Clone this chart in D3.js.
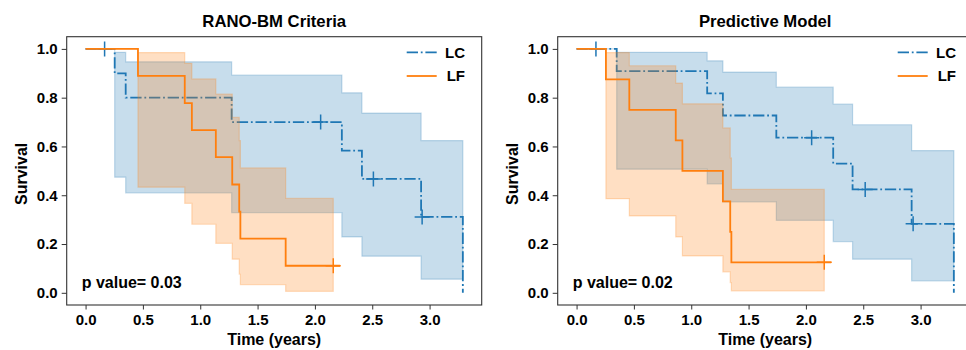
<!DOCTYPE html>
<html>
<head>
<meta charset="utf-8">
<script src="https://cdn.jsdelivr.net/npm/d3@7"></script>
<style>
  body { margin: 0; background: #fff; }
  svg { display: block; font-family: "Liberation Sans", Arial, sans-serif; font-weight: bold; }
</style>
</head>
<body>
<svg id="chart" width="966" height="350"></svg>
<script>
// tick values
const xTicks = [0, 0.5, 1.0, 1.5, 2.0, 2.5, 3.0];
const yTicks = [0, 0.2, 0.4, 0.6, 0.8, 1.0];
const maxTime = 3.29;

// RANO-BM, LC group
const ranoLcTime = [0, 0.254, 0.35, 1.274, 2.235, 2.41, 2.926, 3.29];
const ranoLcSurv = [1, 0.9, 0.8, 0.7, 0.583, 0.467, 0.311, 0];
const ranoLcUpper = [1, 0.986, 0.947, 0.893, 0.82, 0.737, 0.624];
const ranoLcLower = [1, 0.474, 0.41, 0.329, 0.229, 0.15, 0.056];
const ranoLcCensor = [0.166, 2.05, 2.51, 2.935];

// RANO-BM, LF group
const ranoLfTime = [0, 0.457, 0.865, 0.927, 1.136, 1.279, 1.34, 1.35, 1.745];
const ranoLfSurv = [1, 0.889, 0.778, 0.667, 0.556, 0.444, 0.333, 0.222, 0.111];
const ranoLfUpper = [1, 0.985, 0.941, 0.877, 0.815, 0.719, 0.624, 0.512, 0.387];
const ranoLfLower = [1, 0.433, 0.367, 0.281, 0.203, 0.138, 0.076, 0.033, 0.006];
const ranoLfCensor = [2.16];

// Predictive model, LC group
const predLcTime = [0, 0.35, 1.139, 1.276, 1.742, 2.238, 2.407, 2.922, 3.29];
const predLcSurv = [1, 0.909, 0.818, 0.727, 0.636, 0.53, 0.424, 0.283, 0];
const predLcUpper = [1, 0.986, 0.951, 0.905, 0.843, 0.774, 0.689, 0.583];
const predLcLower = [1, 0.507, 0.447, 0.373, 0.297, 0.21, 0.138, 0.049];
const predLcCensor = [0.169, 2.05, 2.517, 2.935];

// Predictive model, LF group
const predLfTime = [0, 0.256, 0.46, 0.865, 0.923, 1.276, 1.34, 1.35];
const predLfSurv = [1, 0.875, 0.75, 0.625, 0.5, 0.375, 0.25, 0.125];
const predLfUpper = [1, 0.985, 0.931, 0.86, 0.775, 0.676, 0.553, 0.424];
const predLfLower = [1, 0.386, 0.315, 0.229, 0.151, 0.086, 0.042, 0.008];
const predLfCensor = [2.16];

const blue = "#1f77b4", orange = "#ff7f0e";

const panels = [
  {
    title: "RANO-BM Criteria", pvalue: "p value= 0.03", left: 66.7,
    series: [
      { name: "LC", color: blue, dash: "11.3,2.8,1.8,2.8", time: ranoLcTime, surv: ranoLcSurv,
        upper: ranoLcUpper, lower: ranoLcLower, censor: ranoLcCensor, lineEnd: 3.29, bandEnd: 3.29 },
      { name: "LF", color: orange, dash: null, time: ranoLfTime, surv: ranoLfSurv,
        upper: ranoLfUpper, lower: ranoLfLower, censor: ranoLfCensor, lineEnd: 2.22, bandEnd: 2.16 }
    ]
  },
  {
    title: "Predictive Model", pvalue: "p value= 0.02", left: 557.7,
    series: [
      { name: "LC", color: blue, dash: "11.3,2.8,1.8,2.8", time: predLcTime, surv: predLcSurv,
        upper: predLcUpper, lower: predLcLower, censor: predLcCensor, lineEnd: 3.29, bandEnd: 3.29 },
      { name: "LF", color: orange, dash: null, time: predLfTime, surv: predLfSurv,
        upper: predLfUpper, lower: predLfLower, censor: predLfCensor, lineEnd: 2.22, bandEnd: 2.16 }
    ]
  }
];

const plotTop = 36.7, width = 415, height = 268.3;
const svg = d3.select("#chart");

panels.forEach(p => drawPanel(p));

function drawPanel(p) {
  const g = svg.append("g").attr("transform", "translate(" + p.left + "," + plotTop + ")");

  const x = d3.scaleLinear().domain([-0.05 * maxTime, 1.05 * maxTime]).range([0, width]);
  const y = d3.scaleLinear().domain([-0.05, 1.05]).range([height, 0]);

  p.series.forEach(s => {
    // confidence band
    const band = s.upper.map((u, i) => [s.time[i], s.lower[i], u]);
    const last = band[band.length - 1];
    band.push([s.bandEnd, last[1], last[2]]);
    g.append("path")
      .datum(band)
      .attr("d", d3.area().curve(d3.curveStepAfter)
        .x(d => x(d[0])).y0(d => y(d[1])).y1(d => y(d[2])))
      .attr("fill", s.color).attr("fill-opacity", 0.25)
      .attr("stroke", s.color).attr("stroke-opacity", 0.25).attr("stroke-width", 1.2);

    // survival step line
    const pts = s.time.map((t, i) => [t, s.surv[i]]);
    const lastS = pts[pts.length - 1];
    if (s.lineEnd > lastS[0]) pts.push([s.lineEnd, lastS[1]]);
    g.append("path")
      .datum(pts)
      .attr("d", d3.line().curve(d3.curveStepAfter).x(d => x(d[0])).y(d => y(d[1])))
      .attr("fill", "none").attr("stroke", s.color).attr("stroke-width", 1.8)
      .attr("stroke-dasharray", s.dash);

    // censor marks
    const survAt = t => {
      let v = s.surv[0];
      s.time.forEach((tt, i) => { if (tt <= t) v = s.surv[i]; });
      return v;
    };
    g.selectAll(null)
      .data(s.censor)
      .enter().append("path")
      .attr("d", t => {
        const cx = x(t), cy = y(survAt(t));
        return "M" + (cx - 7.5) + "," + cy + "H" + (cx + 7.5) + "M" + cx + "," + (cy - 7.5) + "V" + (cy + 7.5);
      })
      .attr("stroke", s.color).attr("stroke-width", 1.5);
  });

  // axes
  const xAxis = g.append("g").attr("transform", "translate(0," + height + ")")
    .call(d3.axisBottom(x).tickValues(xTicks).tickFormat(d3.format(".1f")).tickSize(4.5).tickPadding(5));
  const yAxis = g.append("g")
    .call(d3.axisLeft(y).tickValues(yTicks).tickFormat(d3.format(".1f")).tickSize(5).tickPadding(4));
  [xAxis, yAxis].forEach(a => {
    a.select(".domain").remove();
    a.selectAll("line").attr("stroke", "#333");
    a.selectAll("text").attr("fill", "#000").style("font-size", "15px").style("font-weight", "bold")
      .style("font-family", "'Liberation Sans', Arial, sans-serif");
  });

  // frame
  g.append("rect").attr("width", width).attr("height", height)
    .attr("fill", "none").attr("stroke", "#333").attr("stroke-width", 1.1);

  // title and labels
  g.append("text").attr("x", width / 2).attr("y", -9.4).attr("text-anchor", "middle")
    .style("font-size", "16.7px").text(p.title);
  g.append("text").attr("x", width / 2).attr("y", height + 40).attr("text-anchor", "middle")
    .style("font-size", "16px").text("Time (years)");
  g.append("text").attr("transform", "translate(-40," + (height / 2 + 3) + ") rotate(-90)")
    .attr("text-anchor", "middle").style("font-size", "16px").text("Survival");
  g.append("text").attr("x", 15).attr("y", height - 17)
    .style("font-size", "16px").text(p.pvalue);

  // legend
  const leg = g.append("g");
  p.series.forEach((s, i) => {
    const ly = 15.6 + i * 23.7;
    leg.append("line").attr("x1", width - 75).attr("x2", width - 45).attr("y1", ly).attr("y2", ly)
      .attr("stroke", s.color).attr("stroke-width", 1.8).attr("stroke-dasharray", s.dash);
    leg.append("text").attr("x", width - 16.7).attr("y", ly + 5.4).attr("text-anchor", "end")
      .style("font-size", "15px").text(s.name);
  });
}
</script>
</body>
</html>
